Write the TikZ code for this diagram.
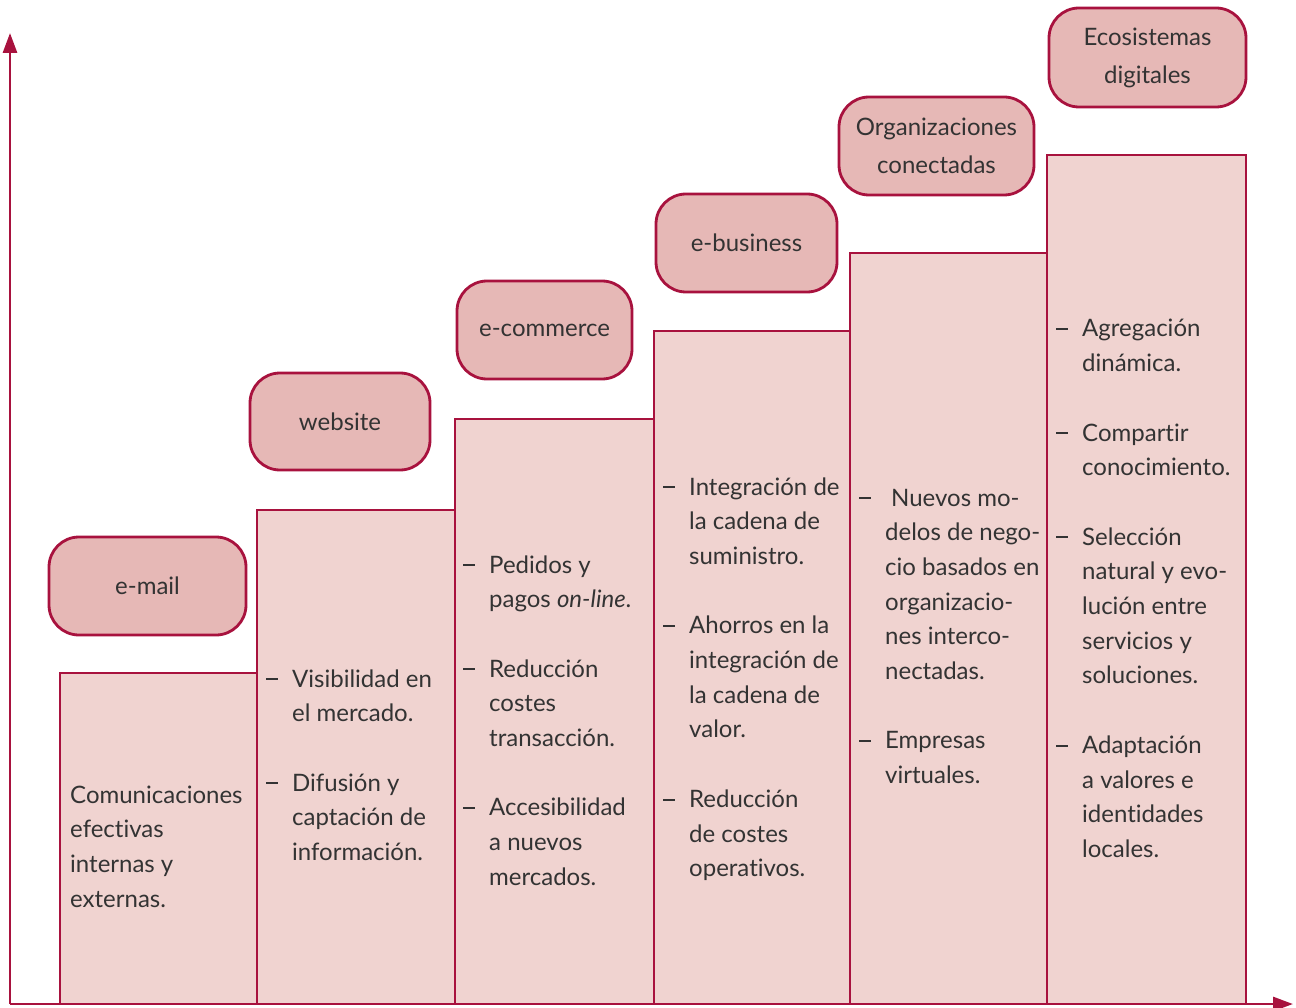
\documentclass[tikz,border=0pt]{standalone}
\usepackage{fontspec}
\setmainfont{Lato}[Ligatures=NoCommon]
\usetikzlibrary{arrows.meta}
\definecolor{crim}{HTML}{A8123E}
\definecolor{colfill}{HTML}{F0D3D0}
\definecolor{labfill}{HTML}{E6B8B6}
\definecolor{txt}{HTML}{333333}
\newcommand\itm{\makebox[26pt][l]{\rule[6.8pt]{12pt}{2pt}}}
\newcommand\ind{\hspace*{26pt}}
\newcommand\coltxt[1]{\parbox[t]{190pt}{\raggedright\fontsize{24}{34.7}\selectfont #1}}
\tikzset{
  colbox/.style={fill=colfill,draw=crim,line width=2.8pt},
  labbox/.style={fill=labfill,draw=crim,line width=2.8pt,rounded corners=30pt,
     align=center,text=txt,inner sep=0pt},
  coltext/.style={anchor=base west,text=txt,inner sep=0pt},
  axis/.style={draw=crim,line width=2.8pt,-{Triangle[length=20pt,width=14pt]}}
}
\begin{document}
\begin{tikzpicture}[x=1pt,y=-1pt]
\useasboundingbox (0,0) rectangle (1296,1008);
% columns
\draw[colbox] (60,1004) rectangle (257,673);
\draw[colbox] (257,1004) rectangle (455,510);
\draw[colbox] (455,1004) rectangle (654,419);
\draw[colbox] (654,1004) rectangle (850,331);
\draw[colbox] (850,1004) rectangle (1047,253);
\draw[colbox] (1047,1004) rectangle (1246,155);
% axes
\coordinate (o) at (10,1004);
\coordinate (ytop) at (10,33);
\coordinate (xend) at (1293,1004);
\draw[axis] (o) -- (ytop);
\draw[axis] (o) -- (xend);
% labels
\node[labbox,minimum width=197pt,minimum height=98pt,font=\fontsize{24}{37}\selectfont] (l1) at (147.5,586) {e-mail};
\node[labbox,minimum width=180pt,minimum height=97pt,font=\fontsize{24}{37}\selectfont] (l2) at (340,421.5) {website};
\node[labbox,minimum width=175pt,minimum height=98pt,font=\fontsize{24}{37}\selectfont] (l3) at (544.5,330) {e-commerce};
\node[labbox,minimum width=181pt,minimum height=98pt,font=\fontsize{24}{37}\selectfont] (l4) at (746.5,243) {e-business};
\node[labbox,minimum width=195pt,minimum height=98pt,font=\fontsize{24}{38}\selectfont] (l5) at (936.5,146) {Organizaciones\\conectadas};
\node[labbox,minimum width=197pt,minimum height=99pt,font=\fontsize{24}{38}\selectfont] (l6) at (1147.5,57.5) {Ecosistemas\\digitales};
% column texts
\node[coltext] (t1) at (70,803) {\coltxt{Comunicaciones\\efectivas\\internas y\\externas.}};
\node[coltext] (t2) at (266,687) {\coltxt{\itm Visibilidad en\\\ind el mercado.\\[34.7pt]\itm Difusión y\\\ind captación de\\\ind información.}};
\node[coltext] (t3) at (463,573) {\coltxt{\itm Pedidos y\\\ind pagos \textit{on-line}.\\[34.7pt]\itm Reducción\\\ind costes\\\ind transacción.\\[34.7pt]\itm Accesibilidad\\\ind a nuevos\\\ind mercados.}};
\node[coltext] (t4) at (663,495) {\coltxt{\itm Integración de\\\ind la cadena de\\\ind suministro.\\[34.7pt]\itm Ahorros en la\\\ind integración de\\\ind la cadena de\\\ind valor.\\[34.7pt]\itm Reducción\\\ind de costes\\\ind operativos.}};
\node[coltext] (t5) at (859,506) {\coltxt{\itm\hspace*{6pt}Nuevos mo-\\\ind delos de nego-\\\ind cio basados en\\\ind organizacio-\\\ind nes interco-\\\ind nectadas.\\[34.7pt]\itm Empresas\\\ind virtuales.}};
\node[coltext] (t6) at (1056,337) {\coltxt{\itm Agregación\\\ind dinámica.\\[34.7pt]\itm Compartir\\\ind conocimiento.\\[34.7pt]\itm Selección\\\ind natural y evo-\\\ind lución entre\\\ind servicios y\\\ind soluciones.\\[34.7pt]\itm Adaptación\\\ind a valores e\\\ind identidades\\\ind locales.}};
\end{tikzpicture}
\end{document}
